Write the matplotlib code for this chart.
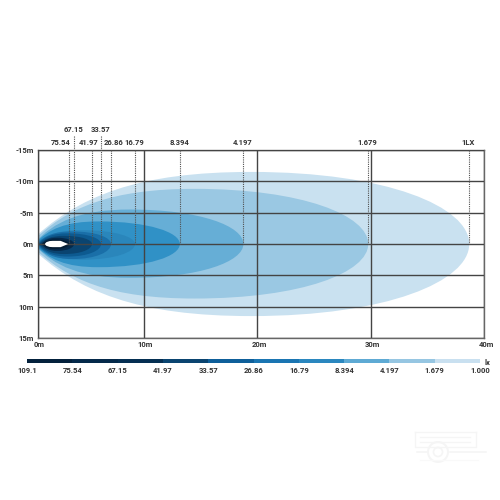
# Light beam plot, lux contours seen from above
import matplotlib
matplotlib.use('Agg')
import matplotlib.pyplot as plt
from matplotlib.path import Path
from matplotlib.patches import PathPatch, Circle
from matplotlib.transforms import ScaledTranslation

plt.rcParams['font.family'] = ['Roboto', 'DejaVu Sans']

# Set data (distances in m, largest contour first)
lux_labels = ['1LX', '1.679', '4.197', '8.394', '16.79', '26.86', '33.57', '41.97', '67.15', '75.54']
reach = [38.7, 29.8, 18.8, 13.2, 9.25, 7.14, 6.26, 5.46, 3.88, 3.44]
peak_at = [19.5, 14.5, 8.8, 6.0, 4.6, 3.7, 3.3, 3.0, 2.4, 2.2]
left_width = [-11.5, -8.8, -5.5, -3.6, -2.2, -2.0, -1.7, -1.3, -1.0, -0.7]
right_width = [11.5, 8.7, 5.4, 3.7, 2.5, 2.4, 2.0, 1.6, 1.1, 0.8]
start_at = [-0.2, 0.0, 0.3, 0.4, 0.45, 0.6, 0.7, 0.8, 1.0, 1.1]
lux_colors = ['#c9e1f0', '#9ac8e3', '#66aed6', '#3091c6', '#2a86bb', '#1a6fa8',
              '#0d5a90', '#0a4470', '#06294a', '#041c33']

scale_labels = ['109.1', '75.54', '67.15', '41.97', '33.57', '26.86', '16.79', '8.394', '4.197', '1.679', '1.000']
scale_colors = ['#03213c', '#04294a', '#052f52', '#0a4470', '#0e5f9a', '#1a75b2',
                '#2a87bf', '#5eaad4', '#96c6e2', '#c9e0f0']

dist_ticks = [0.66, 10, 20, 30, 40]
dist_labels = ['0m', '10m', '20m', '30m', '40m']
side_ticks = [-15, -10, -5, 0, 5, 10, 15]
side_labels = ['-15m', '-10m', '-5m', '0m', '5m', '10m', '15m']

high_labels = ['67.15', '33.57']
label_nudge = {'75.54': -6, '41.97': -2.5, '26.86': 1.5}
grid_color = '#444444'
text_color = '#333333'
font_size = 5.5


def lobe_path(x0, r, px, top, bot):
    # closed bezier outline, one beam contour
    verts = [(x0, 0),
             (x0 + 0.22 * (px - x0), top * 0.68), (px - 0.5 * (px - x0), top), (px, top),
             (px + 0.62 * (r - px), top), (r, top * 0.52), (r, 0),
             (r, bot * 0.52), (px + 0.62 * (r - px), bot), (px, bot),
             (px - 0.5 * (px - x0), bot), (x0 + 0.22 * (px - x0), bot * 0.68), (x0, 0)]
    codes = [Path.MOVETO] + [Path.CURVE4] * 12
    return Path(verts, codes)


fig = plt.figure(figsize=(5, 5), dpi=100)

# Main plot
ax = fig.add_axes([37.5 / 500, 1 - 338 / 500, 446.5 / 500, 188 / 500])
ax.set_xlim(0.66, 40)
ax.set_ylim(15, -15)

for x0, r, px, top, bot, col in zip(start_at, reach, peak_at, left_width, right_width, lux_colors):
    ax.add_patch(PathPatch(lobe_path(x0, r, px, top, bot), facecolor=col, edgecolor='none', zorder=1))

# lamp
lamp = Path([(1.32, 0), (1.4, -0.5), (2.0, -0.5), (2.7, -0.5), (3.35, 0), (2.7, 0.5),
             (2.0, 0.5), (1.4, 0.5), (1.32, 0), (1.32, 0)],
            [Path.MOVETO, Path.CURVE3, Path.CURVE3, Path.LINETO, Path.LINETO, Path.LINETO,
             Path.LINETO, Path.CURVE3, Path.CURVE3, Path.CLOSEPOLY])
ax.add_patch(PathPatch(lamp, facecolor='white', edgecolor='none', zorder=4))

ax.set_xticks(dist_ticks, dist_labels)
ax.set_yticks(side_ticks, side_labels)
ax.tick_params(length=0, labelsize=font_size, colors=text_color, pad=2.5)
for lab in ax.get_xticklabels() + ax.get_yticklabels():
    lab.set_fontweight('bold')
for lab in ax.get_xticklabels():
    lab.set_transform(lab.get_transform() + ScaledTranslation(2 / 100, 0, fig.dpi_scale_trans))
ax.grid(True, color=grid_color, linewidth=1)
ax.set_axisbelow(False)
for s in ax.spines.values():
    s.set_color('#666666')
    s.set_linewidth(1)

# leader lines up to the lux values
for name, r in zip(lux_labels, reach):
    high = name in high_labels
    top_y = -17.3 if high else -15
    ax.plot([r, r], [top_y, 0], color='#505050', linewidth=0.8, linestyle=(0, (1, 1)),
            clip_on=False, zorder=3)
    ax.annotate(name, (r, -15), xytext=(label_nudge.get(name, -0.5), 12.5 if high else 3), textcoords='offset points',
                ha='center', va='bottom', fontsize=font_size, fontweight='bold', color=text_color,
                annotation_clip=False)

# Scale bar
cb = fig.add_axes([27 / 500, 1 - 362.7 / 500, 453 / 500, 4 / 500])
cb.bar(range(len(scale_colors)), [1] * len(scale_colors), width=1, align='edge', color=scale_colors)
cb.set_xlim(0, len(scale_colors))
cb.set_ylim(0, 1)
cb.set_xticks(range(len(scale_labels)), scale_labels)
cb.set_yticks([])
cb.tick_params(length=0, labelsize=font_size, colors=text_color, pad=3)
for lab in cb.get_xticklabels():
    lab.set_fontweight('bold')
for s in cb.spines.values():
    s.set_visible(False)
cb.annotate('lx', (1, 1), xycoords='axes fraction', xytext=(3, 0), textcoords='offset points',
            ha='left', va='top', fontsize=font_size, fontweight='bold', color=text_color)

# Faint trailer watermark, in pixels
wm = fig.add_axes([0, 0, 1, 1])
wm.set_xlim(0, 500)
wm.set_ylim(500, 0)
wm.axis('off')
wm.patch.set_alpha(0)
wm_col = '#f5f5f5'
for r_w, lw in [(10, 1.4), (4.5, 1.2)]:
    wm.add_patch(Circle((438, 452), r_w, fill=False, edgecolor=wm_col, linewidth=lw))
wm.plot([415, 415, 476, 476], [432, 447, 447, 432], color=wm_col, linewidth=1)
wm.plot([415, 476], [432, 432], color=wm_col, linewidth=1)
wm.plot([420, 470], [437, 437], color=wm_col, linewidth=1)
wm.plot([420, 470], [442, 442], color=wm_col, linewidth=1)
wm.plot([450, 486], [452, 452], color=wm_col, linewidth=1.2)
wm.plot([417, 428], [452, 452], color=wm_col, linewidth=1.2)
wm.plot([420, 478], [460, 460], color='#f9f9f9', linewidth=0.8)

plt.savefig('out.png', dpi=100)
